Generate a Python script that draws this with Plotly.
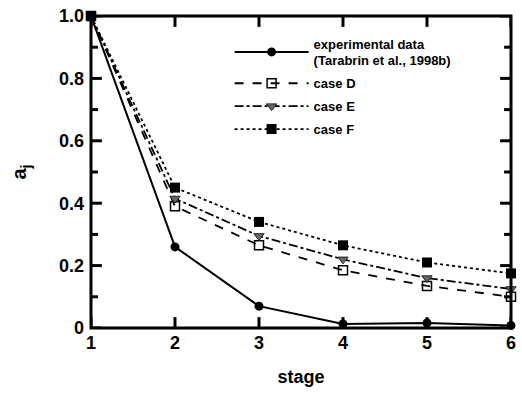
import plotly.graph_objects as go

stage = [1, 2, 3, 4, 5, 6]
exp_data = [1.0, 0.26, 0.07, 0.013, 0.016, 0.008]
case_d = [1.0, 0.39, 0.265, 0.185, 0.135, 0.10]
case_e = [1.0, 0.415, 0.295, 0.22, 0.16, 0.125]
case_f = [1.0, 0.45, 0.34, 0.265, 0.21, 0.175]

y_tickvals = [0, 0.2, 0.4, 0.6, 0.8, 1.0]
y_ticktext = ["0", "0.2", "0.4", "0.6", "0.8", "1.0"]
y_minorvals = [0.1, 0.3, 0.5, 0.7, 0.9]
x_tickvals = [1, 2, 3, 4, 5, 6]

FONT = "Liberation Sans, Arial, sans-serif"
X_RANGE = [1, 6]
Y_RANGE = [0, 1.0]
PLOT_W = 522 - 91 - 6
PLOT_H = 394 - 12 - 66

fig = go.Figure()

# inside tick marks built from the tick value lists (lengths in px -> axis units)
xu = (X_RANGE[1] - X_RANGE[0]) / PLOT_W
yu = (Y_RANGE[1] - Y_RANGE[0]) / PLOT_H
tx, ty = [], []
for v in y_tickvals + y_minorvals:
    ln = (11 if v in y_tickvals else 7) * xu
    tx += [X_RANGE[0], X_RANGE[0] + ln, None, X_RANGE[1] - ln, X_RANGE[1], None]
    ty += [v, v, None, v, v, None]
for v in x_tickvals:
    ln = 11 * yu
    tx += [v, v, None, v, v, None]
    ty += [Y_RANGE[0], Y_RANGE[0] + ln, None, Y_RANGE[1] - ln, Y_RANGE[1], None]
fig.add_trace(go.Scatter(x=tx, y=ty, mode="lines", showlegend=False,
                         hoverinfo="skip", line=dict(color="black", width=3),
                         connectgaps=False))

fig.add_trace(go.Scatter(
    x=stage, y=exp_data, mode="lines+markers", legendgroup="a",
    name="experimental data<br>(Tarabrin et al., 1998b)",
    line=dict(color="black", width=2),
    marker=dict(symbol="circle", size=9, color="black"),
    cliponaxis=False))
fig.add_trace(go.Scatter(
    x=stage, y=case_d, mode="lines+markers", name="case D", legendgroup="d",
    line=dict(color="black", width=1.8, dash="dash"),
    marker=dict(symbol="square-open", size=9, color="black", line=dict(width=1.5)),
    cliponaxis=False))
fig.add_trace(go.Scatter(
    x=stage, y=case_e, mode="lines+markers", name="case E", legendgroup="e",
    line=dict(color="black", width=1.8, dash="dashdot"),
    marker=dict(symbol="triangle-down", size=9, color="#666666",
                line=dict(color="#222222", width=1)),
    cliponaxis=False))
fig.add_trace(go.Scatter(
    x=stage, y=case_f, mode="lines+markers", name="case F", legendgroup="f",
    line=dict(color="black", width=1.8, dash="dot"),
    marker=dict(symbol="square", size=10, color="black"),
    cliponaxis=False))

fig.update_layout(
    width=522, height=394,
    margin=dict(l=91, r=6, t=12, b=66),
    paper_bgcolor="white", plot_bgcolor="white",
    font=dict(family=FONT, size=16, color="black", weight="bold"),
    showlegend=True,
    legend=dict(x=0.33, y=0.96, xanchor="left", yanchor="top",
                bgcolor="rgba(0,0,0,0)", font=dict(size=13, weight="bold"),
                itemwidth=74, tracegroupgap=3),
    shapes=[dict(type="rect", xref="paper", yref="paper", x0=0, x1=1, y0=0, y1=1,
                 line=dict(color="black", width=3), layer="above")],
)
fig.update_xaxes(
    range=X_RANGE, tickmode="array", tickvals=x_tickvals, ticks="",
    showline=False, showgrid=False, zeroline=False, ticklabelstandoff=2,
    title=dict(text="stage", font=dict(size=18, weight="bold"), standoff=18),
    tickfont=dict(size=18, weight="bold"))
fig.update_yaxes(
    range=Y_RANGE, tickmode="array", tickvals=y_tickvals, ticktext=y_ticktext,
    ticks="", showline=False, showgrid=False, zeroline=False, ticklabelstandoff=6,
    title=dict(text="a<sub>j</sub>", font=dict(size=20, weight="bold"), standoff=26),
    tickfont=dict(size=18, weight="bold"))

fig.write_html(
    "out.html",
    config={"displayModeBar": False},
    post_script="document.body.style.margin='0';document.body.style.overflow='hidden';",
)
